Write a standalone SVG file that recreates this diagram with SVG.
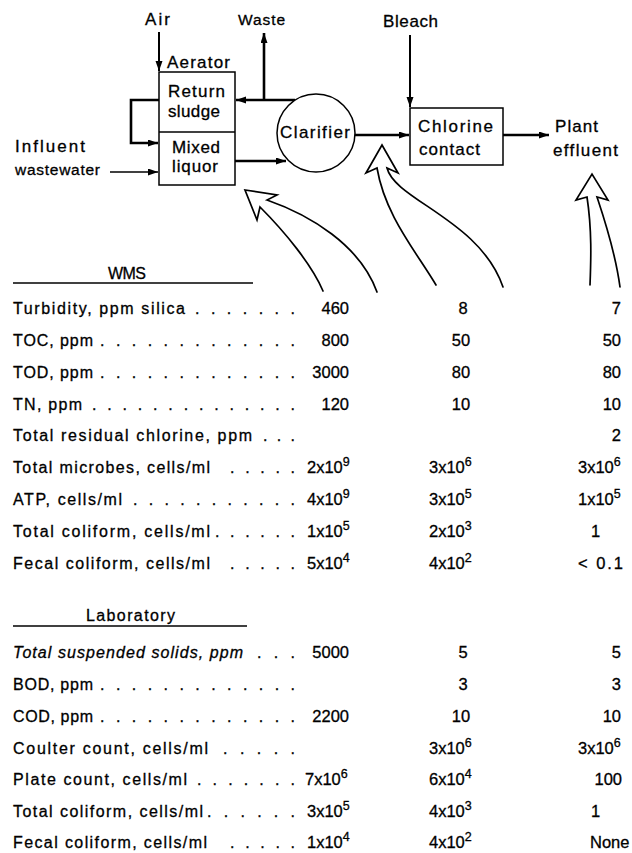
<svg xmlns="http://www.w3.org/2000/svg" width="632" height="853" viewBox="0 0 632 853">
<style>
text{font-family:"Liberation Sans",Arial,sans-serif;fill:#000;stroke:#000;stroke-width:0.3}
.d{font-size:17px}
.ds{font-size:15.5px}
.t{font-size:16px}
.v{font-size:16.5px}
.e{font-size:12.5px}
.thin{stroke:#000;stroke-width:1.5;fill:none}
.thick{stroke:#000;stroke-width:2.6;fill:none}
.med{stroke:#000;stroke-width:2;fill:none}
.ha{stroke:#000;stroke-width:1.7;fill:none;stroke-linejoin:miter;stroke-linecap:round}
.box{stroke:#000;stroke-width:1.5;fill:#fff}
.rule{stroke:#000;stroke-width:1.3}
</style>
<defs>
<marker id="ah" markerUnits="userSpaceOnUse" markerWidth="11" markerHeight="8" refX="10" refY="3.5" orient="auto">
<path d="M0,0 L10,3.5 L0,7 Z" fill="#000"/>
</marker>
</defs>
<rect width="632" height="853" fill="#fff"/>

<g id="connectors">
<line class="med" x1="159" y1="32" x2="159" y2="71" marker-end="url(#ah)"/>
<line class="thick" x1="264" y1="100" x2="264" y2="33" marker-end="url(#ah)"/>
<line class="thick" x1="295" y1="100" x2="236" y2="100" marker-end="url(#ah)"/>
<polyline class="thick" points="159,100 131,100 131,143 158,143" marker-end="url(#ah)"/>
<line class="thin" x1="110" y1="172" x2="158" y2="172" marker-end="url(#ah)"/>
<line class="thick" x1="235" y1="161" x2="286" y2="161" marker-end="url(#ah)"/>
<line class="thick" x1="355" y1="135" x2="409" y2="135" marker-end="url(#ah)"/>
<line class="med" x1="410" y1="35" x2="410" y2="107" marker-end="url(#ah)"/>
<line class="thick" x1="503" y1="135" x2="549" y2="135" marker-end="url(#ah)"/>
<path class="ha" d="M323,291 C312,265 285,232 260,207 L257,220 L245,190 L277,195 L267,200 C310,215 360,245 377,292"/>
<path class="ha" d="M436,285 C415,250 385,215 377,168 L366,173 L382,145 L398,173 L387,168 C395,200 480,220 503,287"/>
<path class="ha" d="M590,285 C591,260 592,230 587,197 L576,200 L592,174 L608,200 L597,197 C603,215 615,250 620,287"/>
</g>

<g id="air"><text class="d" x="145" y="25" textLength="25">Air</text></g>
<g id="waste"><text class="ds" x="238" y="25" textLength="47">Waste</text></g>
<g id="bleach"><text class="d" x="383" y="27" textLength="55">Bleach</text></g>
<g id="influent">
<text class="d" x="15" y="152" textLength="70">Influent</text>
<text class="ds" x="15" y="175" textLength="85">wastewater</text>
</g>
<g id="aerator">
<text class="d" x="167" y="68" textLength="63">Aerator</text>
<rect class="box" x="159" y="72" width="76" height="113"/>
<line class="rule" x1="159" y1="132" x2="235" y2="132"/>
<text class="d" x="168" y="97" textLength="57">Return</text>
<text class="d" x="168" y="117" textLength="52">sludge</text>
<text class="d" x="172" y="153" textLength="48">Mixed</text>
<text class="d" x="172" y="172" textLength="46">liquor</text>
</g>
<g id="clarifier">
<circle cx="316" cy="133" r="39" fill="#fff" stroke="#000" stroke-width="1.5"/>
<text class="d" x="280" y="138" textLength="70">Clarifier</text>
</g>
<g id="chlorine">
<rect class="box" x="410" y="108" width="93" height="57"/>
<text class="d" x="418" y="132" textLength="75">Chlorine</text>
<text class="d" x="419" y="155" textLength="61">contact</text>
</g>
<g id="effluent">
<text class="d" x="555" y="132" textLength="43">Plant</text>
<text class="d" x="553" y="156" textLength="65">effluent</text>
</g>

<g id="table">
<text class="t" x="108" y="279" textLength="38">WMS</text>
<line class="rule" x1="13" y1="283" x2="253" y2="283"/>

<text class="t" x="13" y="314" textLength="172">Turbidity, ppm silica</text>
<text class="t" x="195" y="314" textLength="100">. . . . . . .</text>
<text class="t" x="13" y="346" textLength="80">TOC, ppm</text>
<text class="t" x="100" y="346" textLength="195">. . . . . . . . . . . . .</text>
<text class="t" x="13" y="378" textLength="80">TOD, ppm</text>
<text class="t" x="100" y="378" textLength="195">. . . . . . . . . . . . .</text>
<text class="t" x="13" y="410" textLength="69">TN, ppm</text>
<text class="t" x="92" y="410" textLength="203">. . . . . . . . . . . . . .</text>
<text class="t" x="13" y="441" textLength="239">Total residual chlorine, ppm</text>
<text class="t" x="263" y="441" textLength="32">. . .</text>
<text class="t" x="13" y="473" textLength="197">Total microbes, cells/ml</text>
<text class="t" x="230" y="473" textLength="65">. . . . .</text>
<text class="t" x="13" y="505" textLength="109">ATP, cells/ml</text>
<text class="t" x="133" y="505" textLength="162">. . . . . . . . . . .</text>
<text class="t" x="13" y="537" textLength="197">Total coliform, cells/ml</text>
<text class="t" x="215" y="537" textLength="80">. . . . . .</text>
<text class="t" x="13" y="569" textLength="197">Fecal coliform, cells/ml</text>
<text class="t" x="230" y="569" textLength="65">. . . . .</text>

<text class="v" x="349" y="314" text-anchor="end">460</text>
<text class="v" x="463" y="314" text-anchor="middle">8</text>
<text class="v" x="621" y="314" text-anchor="end">7</text>
<text class="v" x="349" y="346" text-anchor="end">800</text>
<text class="v" x="461" y="346" text-anchor="middle">50</text>
<text class="v" x="621" y="346" text-anchor="end">50</text>
<text class="v" x="349" y="378" text-anchor="end">3000</text>
<text class="v" x="461" y="378" text-anchor="middle">80</text>
<text class="v" x="621" y="378" text-anchor="end">80</text>
<text class="v" x="349" y="410" text-anchor="end">120</text>
<text class="v" x="461" y="410" text-anchor="middle">10</text>
<text class="v" x="621" y="410" text-anchor="end">10</text>
<text class="v" x="621" y="441" text-anchor="end">2</text>
<text class="v" x="307" y="473">2x10<tspan class="e" dy="-7">9</tspan></text>
<text class="v" x="429" y="473">3x10<tspan class="e" dy="-7">6</tspan></text>
<text class="v" x="578" y="473">3x10<tspan class="e" dy="-7">6</tspan></text>
<text class="v" x="307" y="505">4x10<tspan class="e" dy="-7">9</tspan></text>
<text class="v" x="429" y="505">3x10<tspan class="e" dy="-7">5</tspan></text>
<text class="v" x="578" y="505">1x10<tspan class="e" dy="-7">5</tspan></text>
<text class="v" x="307" y="537">1x10<tspan class="e" dy="-7">5</tspan></text>
<text class="v" x="429" y="537">2x10<tspan class="e" dy="-7">3</tspan></text>
<text class="v" x="591" y="537">1</text>
<text class="v" x="307" y="569">5x10<tspan class="e" dy="-7">4</tspan></text>
<text class="v" x="429" y="569">4x10<tspan class="e" dy="-7">2</tspan></text>
<text class="v" x="578" y="569" textLength="45">&lt; 0.1</text>

<text class="t" x="86" y="621" textLength="89">Laboratory</text>
<line class="rule" x1="13" y1="626" x2="247" y2="626"/>

<text class="t" x="13" y="658" textLength="230" font-style="italic">Total suspended solids, ppm</text>
<text class="t" x="257" y="658" textLength="38">. . .</text>
<text class="t" x="13" y="690" textLength="80">BOD, ppm</text>
<text class="t" x="100" y="690" textLength="195">. . . . . . . . . . . . .</text>
<text class="t" x="13" y="722" textLength="80">COD, ppm</text>
<text class="t" x="100" y="722" textLength="195">. . . . . . . . . . . . .</text>
<text class="t" x="13" y="754" textLength="195">Coulter count, cells/ml</text>
<text class="t" x="223" y="754" textLength="72">. . . . .</text>
<text class="t" x="13" y="785" textLength="174">Plate count, cells/ml</text>
<text class="t" x="197" y="785" textLength="98">. . . . . . .</text>
<text class="t" x="13" y="817" textLength="190">Total coliform, cells/ml</text>
<text class="t" x="207" y="817" textLength="88">. . . . . .</text>
<text class="t" x="13" y="848" textLength="194">Fecal coliform, cells/ml</text>
<text class="t" x="230" y="848" textLength="65">. . . . .</text>

<text class="v" x="349" y="658" text-anchor="end">5000</text>
<text class="v" x="463" y="658" text-anchor="middle">5</text>
<text class="v" x="621" y="658" text-anchor="end">5</text>
<text class="v" x="463" y="690" text-anchor="middle">3</text>
<text class="v" x="621" y="690" text-anchor="end">3</text>
<text class="v" x="349" y="722" text-anchor="end">2200</text>
<text class="v" x="461" y="722" text-anchor="middle">10</text>
<text class="v" x="621" y="722" text-anchor="end">10</text>
<text class="v" x="429" y="754">3x10<tspan class="e" dy="-7">6</tspan></text>
<text class="v" x="578" y="754">3x10<tspan class="e" dy="-7">6</tspan></text>
<text class="v" x="305" y="785">7x10<tspan class="e" dy="-7">6</tspan></text>
<text class="v" x="429" y="785">6x10<tspan class="e" dy="-7">4</tspan></text>
<text class="v" x="622" y="785" text-anchor="end">100</text>
<text class="v" x="307" y="817">3x10<tspan class="e" dy="-7">5</tspan></text>
<text class="v" x="429" y="817">4x10<tspan class="e" dy="-7">3</tspan></text>
<text class="v" x="591" y="817">1</text>
<text class="v" x="307" y="848">1x10<tspan class="e" dy="-7">4</tspan></text>
<text class="v" x="429" y="848">4x10<tspan class="e" dy="-7">2</tspan></text>
<text class="v" x="590" y="848">None</text>
</g>
</svg>
